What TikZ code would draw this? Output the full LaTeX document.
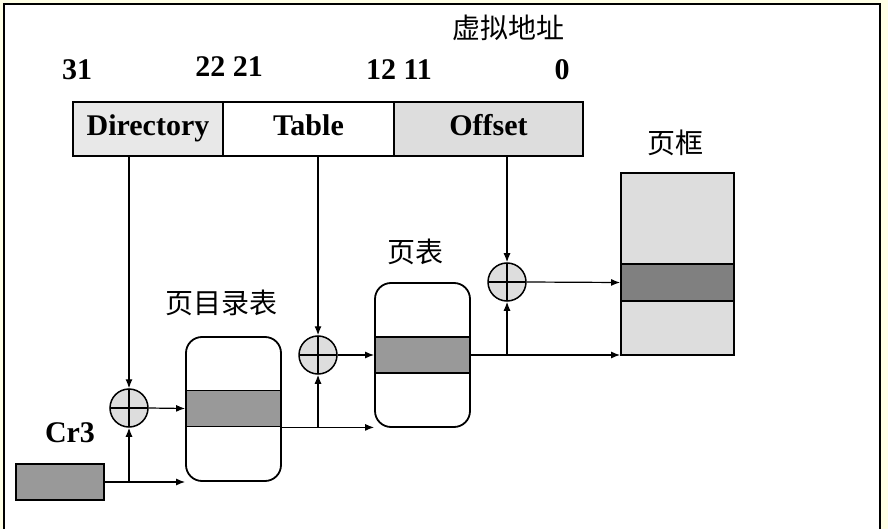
\documentclass[tikz,border=0pt]{standalone}
\usepackage{fontspec}
\setmainfont{Liberation Serif}
\newfontfamily\cjk{Noto Sans CJK SC}
\usetikzlibrary{arrows.meta}
\definecolor{bgyel}{HTML}{FFFFE6}
\definecolor{lgray}{HTML}{E8E8E8}
\definecolor{mgray}{HTML}{DDDDDD}
\definecolor{dgray}{HTML}{999999}
\definecolor{bgray}{HTML}{808080}

\begin{document}
\begin{tikzpicture}[x=1pt,y=-1pt,>={Latex[length=9pt,width=7pt]},
  fld/.style={draw,line width=1.8pt,inner sep=0pt,minimum height=54pt,text height=19pt,text depth=5pt,
    font=\fontsize{30}{32}\selectfont\bfseries},
  num/.style={font=\fontsize{30}{32}\selectfont\bfseries},
  zh/.style={font=\cjk\fontsize{28}{30}\selectfont},
  tbl/.style={draw,line width=1.8pt,rounded corners=16pt,minimum width=95pt,minimum height=144pt,inner sep=0pt},
  ent/.style={draw,line width=1.8pt,fill=dgray,minimum width=95pt,minimum height=36pt,inner sep=0pt},
  add/.style={circle,draw,line width=1.5pt,fill=mgray,minimum size=38pt,inner sep=0pt,
    path picture={\draw[line width=1.5pt] (path picture bounding box.north)--(path picture bounding box.south)
      (path picture bounding box.west)--(path picture bounding box.east);}},
  ln/.style={line width=1.2pt}]
\useasboundingbox (0,0) rectangle (888,529);
\fill[bgyel] (0,0) rectangle (888,529);
\fill[white] (4,4) rectangle (880,529);
\draw[line width=2pt] (4,529)--(4,4)--(880,4)--(880,529);

% virtual address
\node[zh] (va) at (508,28) {虚拟地址};
\node[num] (b31) at (77,70) {31};
\node[num] (b22) at (229,67) {22 21};
\node[num] (b12) at (399,70) {12 11};
\node[num] (b0) at (562,70) {0};
\node[fld,fill=lgray,minimum width=150pt] (dir) at (148,129) {Directory};
\node[fld,fill=white,minimum width=171pt] (tab) at (308.5,129) {Table};
\node[fld,fill=mgray,minimum width=189pt] (off) at (488.5,129) {Offset};

% cr3
\node[num] (crl) at (70,433) {Cr3};
\node[draw,line width=1.8pt,fill=dgray,minimum width=88pt,minimum height=36pt,inner sep=0pt] (cr) at (60,482) {};

% page directory
\node[zh] (pdl) at (221,303) {页目录表};
\node[tbl] (pdir) at (233.5,409) {};
\node[ent] (pdent) at (233.5,408.5) {};

% page table
\node[zh] (ptl) at (415,252) {页表};
\node[tbl] (ptab) at (422.5,355) {};
\node[ent] (ptent) at (422.5,355) {};

% page frame
\node[zh] (pfl) at (675,143) {页框};
\node[draw,line width=1.8pt,fill=mgray,minimum width=113pt,minimum height=182pt,inner sep=0pt] (frm) at (677.5,264) {};
\node[draw,line width=1.8pt,fill=bgray,minimum width=113pt,minimum height=37pt,inner sep=0pt] (frent) at (677.5,282.5) {};

\node[add] (adda) at (129,408) {};
\node[add] (addb) at (318,355) {};
\node[add] (addc) at (507,282) {};

\draw[ln,->] (adda |- dir.south)--(adda.north);
\draw[ln,->] (cr.east)--(cr.east -| pdir.west);
\draw[ln,->] (adda |- cr.east)--(adda.south);
\draw[ln,->] (adda.east)--(pdent.west);
\draw[ln,->] (addb |- tab.south)--(addb.north);
\draw[ln,->] (pdent.south east)--(pdent.south east -| ptab.west);
\draw[ln,->] (addb |- pdent.south east)--(addb.south);
\draw[ln,->] (addb.east)--(ptent.west);
\draw[ln,->] (addc |- off.south)--(addc.north);
\draw[ln,->] (ptent.east)--(ptent.east -| frm.west);
\draw[ln,->] (addc |- ptent.east)--(addc.south);
\draw[ln,->] (addc.east)--(frent.west);
\end{tikzpicture}
\end{document}
